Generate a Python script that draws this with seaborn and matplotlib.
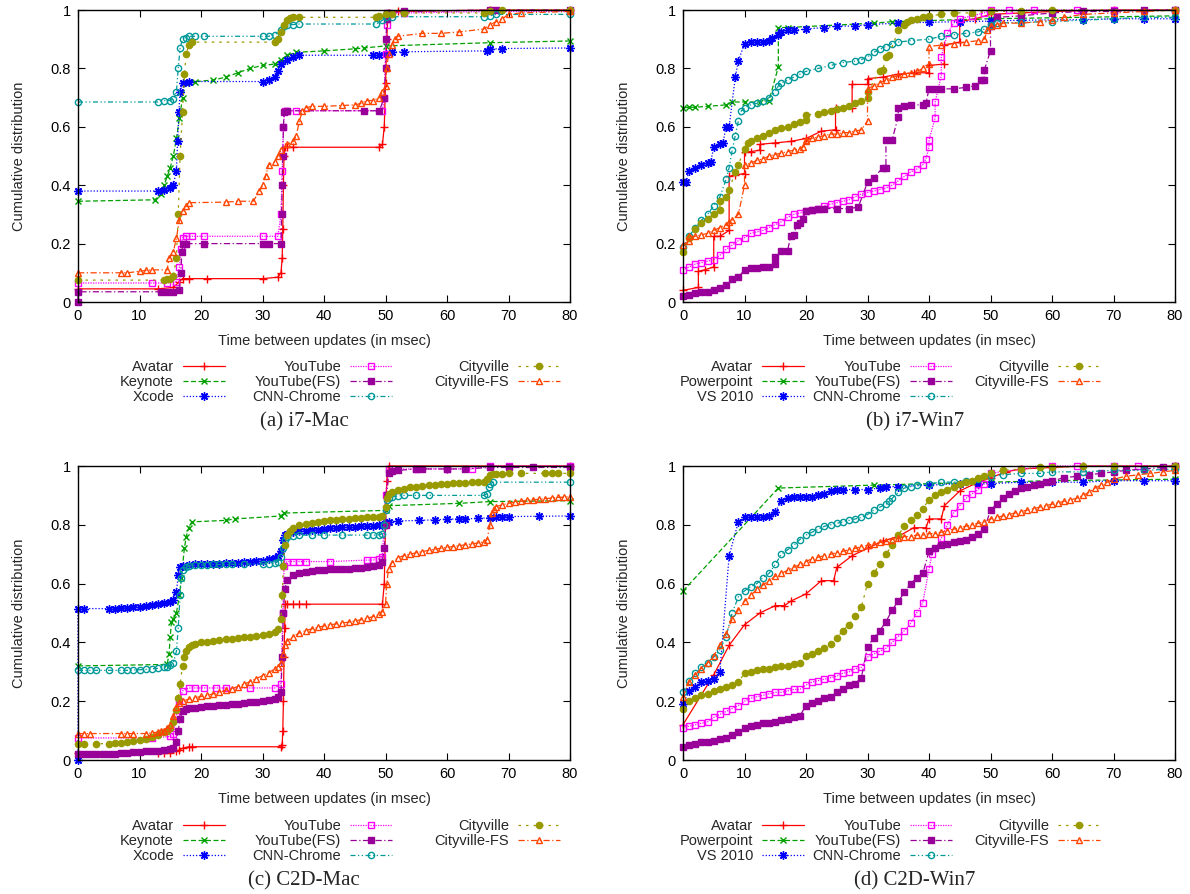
import matplotlib
matplotlib.use("Agg")
import matplotlib.pyplot as plt
import seaborn as sns

# ---- (a) i7-Mac : (x msec, cumulative fraction)
a_avatar = [(0, 0.045), (13, 0.045), (15.5, 0.05), (16.5, 0.07), (17, 0.08), (18, 0.08), (21, 0.08), (30, 0.08),
            (32.5, 0.085), (33, 0.1), (33.2, 0.15), (33.3, 0.25), (33.4, 0.4), (33.5, 0.5), (33.6, 0.53), (34, 0.53),
            (35, 0.53), (49, 0.53), (49.5, 0.54), (49.8, 0.6), (50, 0.75), (50.2, 0.9), (50.4, 0.98), (50.6, 0.99),
            (52, 0.995), (67, 1.0), (80, 1.0)]
a_keynote = [(0, 0.345), (12.5, 0.35), (13.5, 0.37), (14, 0.4), (14.5, 0.43), (15, 0.46), (15.5, 0.5), (16, 0.56),
             (16.5, 0.63), (17, 0.7), (17.5, 0.75), (18, 0.755), (19, 0.755), (22, 0.76), (24, 0.77), (26, 0.785),
             (28, 0.8), (30, 0.81), (32, 0.815), (33, 0.83), (34, 0.845), (35.5, 0.855), (40, 0.86), (45, 0.867),
             (46.5, 0.87), (50, 0.877), (67, 0.888), (80, 0.894)]
a_xcode = [(0, 0.38), (13, 0.38), (14, 0.385), (15, 0.39), (15.5, 0.4), (16, 0.45), (16.2, 0.55), (16.4, 0.65),
           (16.6, 0.72), (17, 0.75), (18, 0.755), (30, 0.755), (31, 0.76), (32, 0.77), (32.5, 0.79), (33, 0.815),
           (34, 0.83), (35, 0.84), (36, 0.845), (48, 0.845), (49, 0.847), (50, 0.85), (51, 0.855), (53, 0.857),
           (66.5, 0.86), (67, 0.866), (69, 0.868), (80, 0.87)]
a_youtube = [(0, 0.065), (12, 0.065), (14.5, 0.065), (16, 0.07), (16.5, 0.12), (16.8, 0.18), (17, 0.22),
             (17.5, 0.225), (18.5, 0.225), (20.5, 0.225), (30, 0.225), (32.5, 0.225), (33, 0.3), (33.2, 0.45),
             (33.4, 0.6), (33.6, 0.655), (34, 0.655), (35.5, 0.655), (49.5, 0.655), (49.8, 0.7), (50, 0.85),
             (50.2, 0.95), (50.5, 0.99), (53, 0.99), (67, 0.995), (80, 0.995)]
a_youtubefs = [(0, 0.0), (0, 0.035), (13.5, 0.035), (14.5, 0.035), (15.5, 0.035), (16.5, 0.04), (16.7, 0.1),
               (16.9, 0.17), (17, 0.2), (17.5, 0.2), (20.5, 0.2), (30, 0.2), (31, 0.2), (33, 0.2), (33.1, 0.3),
               (33.2, 0.4), (33.3, 0.5), (33.4, 0.6), (33.5, 0.65), (34, 0.655), (46.5, 0.655), (49, 0.655),
               (49.8, 0.7), (50, 0.8), (50.1, 0.9), (50.2, 0.97), (50.3, 0.99), (53, 0.995), (67, 1.0), (68, 1.0),
               (80, 1.0)]
a_cnn = [(0, 0.685), (13, 0.685), (14, 0.69), (15, 0.69), (15.5, 0.695), (16, 0.72), (16.3, 0.8), (16.6, 0.87),
         (17, 0.9), (17.5, 0.905), (18, 0.91), (19, 0.91), (20.5, 0.91), (30, 0.91), (31, 0.91), (32, 0.915),
         (33, 0.93), (33.5, 0.945), (34, 0.95), (35, 0.95), (36, 0.952), (48.5, 0.952), (49.5, 0.965), (50, 0.975),
         (51, 0.977), (66, 0.977), (67, 0.98), (68, 0.985), (80, 0.985)]
a_cityville = [(0, 0.075), (14, 0.075), (14.5, 0.078), (15, 0.08), (15.5, 0.09), (16, 0.15), (16.3, 0.3),
               (16.6, 0.5), (17, 0.65), (17.3, 0.78), (17.6, 0.85), (18, 0.88), (18.5, 0.89), (32, 0.89), (32.5, 0.9),
               (33, 0.925), (33.5, 0.95), (34, 0.965), (34.5, 0.972), (35, 0.975), (36, 0.975), (48.5, 0.975),
               (49, 0.98), (50, 0.985), (51, 0.988), (53, 0.99), (66, 0.99), (67, 0.995), (69, 1.0), (80, 1.0)]
a_cityfs = [(0, 0.1), (7, 0.1), (8, 0.1), (10, 0.105), (11, 0.108), (12, 0.11), (14.5, 0.11), (14.8, 0.15),
            (15.5, 0.17), (16, 0.22), (16.5, 0.28), (17, 0.31), (17.5, 0.33), (18, 0.34), (24, 0.342), (26, 0.345),
            (28.5, 0.345), (29.5, 0.38), (30, 0.4), (30.5, 0.43), (31, 0.47), (32, 0.48), (32.5, 0.5), (33, 0.52),
            (34, 0.54), (35, 0.55), (35.5, 0.57), (36, 0.62), (36.5, 0.655), (37, 0.665), (38, 0.67), (40, 0.67),
            (43, 0.673), (45, 0.675), (46, 0.68), (47, 0.69), (48, 0.69), (49, 0.7), (49.5, 0.72), (50, 0.74),
            (50.2, 0.8), (50.5, 0.85), (51, 0.88), (51.5, 0.9), (52, 0.91), (56, 0.92), (59, 0.92), (62, 0.925),
            (66, 0.935), (67, 0.95), (68, 0.96), (69, 0.97), (70, 0.985), (72, 0.99), (80, 0.995)]

# ---- (b) i7-Win7
b_avatar = [(0, 0.04), (2.5, 0.05), (2.5, 0.105), (3.5, 0.11), (5, 0.12), (5, 0.225), (6, 0.225), (7.5, 0.245),
            (7.5, 0.43), (8.5, 0.435), (10, 0.44), (10, 0.515), (11, 0.515), (12.5, 0.52), (12.5, 0.54), (15, 0.545),
            (17.5, 0.55), (20, 0.56), (22.5, 0.585), (24.8, 0.59), (24.8, 0.665), (27.5, 0.665), (27.5, 0.745),
            (30, 0.745), (30, 0.765), (32.5, 0.77), (35, 0.78), (37.5, 0.785), (40, 0.785), (40, 0.81),
            (42.5, 0.815), (42.5, 0.88), (45, 0.89), (45, 0.96), (47.5, 0.97), (50, 0.985), (55, 0.99),
            (60, 0.995), (70, 1.0), (80, 1.0)]
b_powerpoint = [(0, 0.665), (1, 0.667), (2, 0.667), (4, 0.67), (7, 0.675), (8, 0.685), (10, 0.685), (12.5, 0.685),
                (14, 0.69), (15.5, 0.805), (15.5, 0.94), (17, 0.94), (31, 0.955), (34, 0.96), (50, 0.97), (80, 0.98)]
b_vs2010 = [(0, 0.41), (0.5, 0.41), (1, 0.45), (2, 0.46), (3, 0.47), (4, 0.475), (4.5, 0.48), (5, 0.53), (6, 0.54),
            (6.5, 0.545), (7, 0.6), (7.5, 0.6), (8.5, 0.77), (9, 0.825), (10, 0.885), (11, 0.89), (12, 0.89),
            (13, 0.89), (14, 0.895), (14.5, 0.905), (15.5, 0.915), (16, 0.925), (17, 0.93), (18, 0.93), (20, 0.935),
            (23, 0.94), (25, 0.945), (28, 0.945), (30, 0.95), (35, 0.955), (40, 0.958), (45, 0.96), (50, 0.962),
            (55, 0.965), (65, 0.967), (70, 0.97), (75, 0.97), (80, 0.97)]
b_youtube = [(0, 0.11), (1, 0.12), (2, 0.13), (3, 0.135), (4, 0.14), (5, 0.145), (6, 0.16), (7, 0.18), (8, 0.195),
             (9, 0.21), (10, 0.22), (11, 0.235), (12, 0.24), (13, 0.245), (14, 0.255), (15, 0.265), (16, 0.275),
             (17, 0.29), (18, 0.3), (19, 0.305), (20, 0.31), (21, 0.315), (22, 0.32), (23, 0.33), (24, 0.335),
             (25, 0.34), (26, 0.345), (27, 0.35), (28, 0.36), (29, 0.37), (30, 0.375), (31, 0.38), (32, 0.385),
             (33, 0.39), (34, 0.4), (35, 0.415), (36, 0.43), (37, 0.445), (38, 0.455), (39, 0.47), (39.5, 0.49),
             (40, 0.53), (40, 0.555), (41, 0.63), (41, 0.685), (42, 0.775), (42, 0.84), (43, 0.92), (44, 0.955),
             (45, 0.97), (47, 0.98), (49, 0.99), (50, 1.0), (53, 1.0), (57, 1.0), (64, 1.0), (70, 1.0), (80, 1.0)]
b_youtubefs = [(0, 0.02), (1, 0.025), (2, 0.03), (3, 0.033), (4, 0.035), (5, 0.04), (6, 0.048), (7, 0.058),
               (8, 0.08), (9, 0.085), (10, 0.11), (11, 0.115), (12, 0.115), (13, 0.12), (14, 0.12), (15, 0.13),
               (15, 0.155), (16, 0.175), (17, 0.175), (17.5, 0.225), (18, 0.23), (18.5, 0.265), (19, 0.27),
               (19.5, 0.285), (20, 0.31), (21, 0.315), (22, 0.32), (23, 0.32), (25, 0.32), (27, 0.32), (28.5, 0.325),
               (30, 0.41), (31, 0.425), (32.5, 0.46), (33, 0.46), (33, 0.555), (34, 0.555), (35, 0.635), (35, 0.665),
               (36, 0.67), (37, 0.675), (39, 0.675), (39.5, 0.68), (40, 0.73), (41, 0.73), (42, 0.73), (44, 0.73),
               (46, 0.735), (47.5, 0.74), (48.5, 0.76), (49, 0.76), (49, 0.795), (50, 0.86), (50, 0.945), (51, 0.975),
               (55, 0.98), (60, 0.99), (65, 0.995), (70, 0.995), (75, 1.0), (80, 1.0)]
b_cnn = [(0, 0.19), (1, 0.225), (2, 0.255), (3, 0.28), (4, 0.3), (5, 0.33), (6, 0.36), (7, 0.42), (7.5, 0.46),
         (8, 0.52), (8.5, 0.57), (9, 0.62), (9.5, 0.655), (10, 0.665), (11, 0.675), (12, 0.68), (13, 0.69), (14, 0.7),
         (15, 0.72), (15.5, 0.74), (16, 0.75), (17, 0.76), (18, 0.77), (19, 0.78), (20, 0.79), (22, 0.8), (24, 0.81),
         (26, 0.82), (28, 0.825), (29, 0.83), (30, 0.84), (31, 0.855), (32, 0.865), (33, 0.875), (34, 0.885),
         (35, 0.89), (37, 0.895), (40, 0.9), (42, 0.91), (44, 0.915), (46, 0.92), (48, 0.925), (49, 0.935),
         (50, 0.95), (51, 0.955), (55, 0.958), (60, 0.96), (65, 0.965), (70, 0.97), (75, 0.975), (80, 0.975)]
b_cityville = [(0, 0.17), (1, 0.22), (2, 0.25), (3, 0.27), (4, 0.285), (5, 0.3), (6, 0.315), (6, 0.345), (7, 0.36),
               (7.5, 0.385), (8.5, 0.445), (9, 0.47), (10, 0.525), (10.5, 0.545), (11, 0.55), (12, 0.56), (13, 0.57),
               (14, 0.58), (15, 0.59), (16, 0.595), (17, 0.6), (18, 0.61), (19, 0.615), (20, 0.625), (20, 0.64),
               (22, 0.645), (23, 0.65), (24, 0.655), (25, 0.66), (26, 0.665), (27, 0.67), (28, 0.68), (29, 0.69),
               (30, 0.7), (30, 0.72), (32, 0.79), (32.5, 0.795), (33, 0.84), (33.5, 0.845), (35, 0.93), (36, 0.95),
               (36.5, 0.96), (37, 0.965), (38, 0.97), (39, 0.975), (40, 0.98), (42, 0.985), (44, 0.99), (47, 0.99),
               (50, 0.995), (55, 0.997), (60, 1.0), (80, 1.0)]
b_cityfs = [(0, 0.195), (1, 0.21), (1, 0.225), (2, 0.225), (3, 0.23), (4, 0.235), (5, 0.245), (6, 0.255),
            (7, 0.265), (7.5, 0.275), (8, 0.28), (9, 0.3), (10, 0.4), (10, 0.47), (11, 0.475), (12, 0.485),
            (13, 0.49), (14, 0.5), (15, 0.505), (16, 0.51), (17, 0.515), (18, 0.52), (19, 0.525), (19.5, 0.53),
            (20, 0.55), (20, 0.555), (21, 0.56), (22, 0.565), (23, 0.57), (24, 0.575), (25, 0.575), (26, 0.58),
            (27, 0.58), (28, 0.585), (29, 0.59), (30, 0.62), (30, 0.73), (31, 0.74), (32, 0.75), (33, 0.76),
            (34, 0.77), (35, 0.775), (36, 0.78), (37, 0.785), (38, 0.79), (39, 0.8), (40, 0.815), (40, 0.875),
            (42, 0.88), (44, 0.885), (46, 0.89), (48, 0.895), (49, 0.9), (49.5, 0.93), (50, 0.945), (51, 0.95),
            (52, 0.955), (55, 0.955), (58, 0.96), (60, 0.965), (62, 0.975), (65, 0.985), (70, 0.99), (75, 0.995),
            (80, 1.0)]

# ---- (c) C2D-Mac
c_avatar = [(0, 0.025), (13, 0.025), (14, 0.025), (15, 0.025), (16, 0.03), (16.5, 0.035), (17, 0.04), (18, 0.045),
            (18.5, 0.045), (33, 0.045), (33.2, 0.05), (33.3, 0.1), (33.4, 0.2), (33.5, 0.35), (33.6, 0.45),
            (33.7, 0.53), (34, 0.53), (35, 0.53), (36, 0.53), (37, 0.53), (49.5, 0.53), (49.8, 0.6), (50, 0.8),
            (50.2, 0.95), (50.5, 1.0), (80, 1.0)]
c_keynote = [(0, 0.32), (14.5, 0.325), (14.8, 0.36), (15, 0.42), (15.2, 0.47), (15.5, 0.48), (16, 0.5), (16.5, 0.56),
             (16.8, 0.62), (17, 0.66), (17.3, 0.72), (17.6, 0.76), (18, 0.79), (18.5, 0.81), (24, 0.815),
             (25.5, 0.82), (33, 0.83), (33.5, 0.84), (50, 0.849), (50.5, 0.865), (62, 0.873), (67, 0.879),
             (80, 0.882)]
c_xcode = [(0, 0.0), (0, 0.515), (1, 0.515), (5, 0.515), (6, 0.515), (7, 0.517), (8, 0.518), (9, 0.52), (10, 0.522),
           (11, 0.525), (12, 0.527), (13, 0.53), (14, 0.533), (15, 0.537), (15.5, 0.545), (16, 0.57), (16.3, 0.63),
           (16.6, 0.655), (17, 0.66), (18, 0.663), (19, 0.665), (20, 0.665), (21, 0.666), (22, 0.667), (23, 0.668),
           (24, 0.669), (25, 0.67), (26, 0.671), (27, 0.672), (28, 0.674), (29, 0.676), (30, 0.678), (31, 0.682),
           (32, 0.688), (32.5, 0.695), (33, 0.71), (33.3, 0.75), (33.6, 0.765), (34, 0.77), (35, 0.775), (36, 0.778),
           (37, 0.78), (38, 0.782), (39, 0.784), (40, 0.786), (41, 0.788), (42, 0.79), (43, 0.791), (44, 0.792),
           (45, 0.794), (46, 0.795), (47, 0.796), (48, 0.797), (49, 0.798), (49.5, 0.8), (50, 0.805), (50.5, 0.81),
           (52, 0.813), (55.5, 0.815), (58, 0.817), (60, 0.819), (62, 0.82), (63, 0.82), (65, 0.822), (67, 0.824),
           (68, 0.826), (69, 0.827), (70, 0.828), (75, 0.829), (80, 0.83)]
c_youtube = [(0, 0.075), (12, 0.075), (15, 0.08), (15.5, 0.09), (16, 0.15), (16.5, 0.2), (17, 0.235), (18, 0.245),
             (19, 0.245), (20.5, 0.245), (22.5, 0.245), (24, 0.245), (28, 0.245), (32, 0.245), (33, 0.26),
             (33.3, 0.5), (33.5, 0.66), (34, 0.675), (35, 0.675), (36, 0.675), (37, 0.675), (41, 0.675), (47, 0.68),
             (48, 0.68), (49, 0.685), (49.5, 0.69), (50, 0.9), (50.5, 0.99), (55, 0.99), (60, 0.99), (64, 0.99),
             (67, 1.0), (70, 1.0), (80, 1.0)]
c_youtubefs = [(0, 0.02), (1, 0.02), (2, 0.02), (3, 0.021), (4, 0.021), (5, 0.022), (6, 0.022), (7, 0.024),
               (8, 0.025), (9, 0.026), (10, 0.028), (11, 0.029), (12, 0.03), (13, 0.032), (14, 0.034), (15, 0.037),
               (15.5, 0.042), (16, 0.06), (16.3, 0.1), (16.6, 0.14), (17, 0.165), (17.5, 0.172), (18, 0.176),
               (19, 0.178), (20, 0.18), (21, 0.182), (22, 0.184), (23, 0.186), (24, 0.188), (25, 0.19), (26, 0.192),
               (27, 0.194), (28, 0.196), (29, 0.198), (30, 0.2), (31, 0.203), (32, 0.208), (32.5, 0.215), (33, 0.23),
               (33.2, 0.35), (33.4, 0.5), (33.6, 0.58), (34, 0.612), (35, 0.628), (36, 0.635), (37, 0.64),
               (38, 0.643), (39, 0.645), (40, 0.647), (41, 0.648), (42, 0.649), (43, 0.65), (44, 0.651), (45, 0.652),
               (46, 0.654), (47, 0.656), (48, 0.659), (49, 0.663), (49.5, 0.675), (49.8, 0.72), (50, 0.8),
               (50.2, 0.9), (50.5, 0.975), (51, 0.983), (52, 0.985), (55, 0.99), (56, 0.99), (60, 0.99), (63, 0.99),
               (67, 0.995), (70, 0.995), (74, 0.995), (80, 0.995)]
c_cnn = [(0, 0.305), (1, 0.305), (2, 0.305), (3, 0.305), (5, 0.305), (7, 0.305), (8, 0.305), (9, 0.306),
         (10, 0.307), (11, 0.308), (12, 0.31), (13, 0.312), (14, 0.315), (14.5, 0.318), (15, 0.322), (15.5, 0.33),
         (16, 0.37), (16.3, 0.45), (16.6, 0.56), (16.8, 0.62), (17, 0.645), (17.5, 0.655), (18, 0.66), (19, 0.662),
         (20, 0.663), (21, 0.664), (22, 0.665), (23, 0.665), (24, 0.665), (25, 0.666), (27, 0.666), (30, 0.667),
         (31, 0.668), (32, 0.67), (32.5, 0.675), (33, 0.69), (33.3, 0.72), (33.6, 0.75), (34, 0.76), (35, 0.763),
         (36, 0.765), (38, 0.765), (40, 0.765), (43, 0.765), (47, 0.765), (48, 0.765), (49, 0.766), (49.5, 0.77),
         (49.8, 0.8), (50, 0.85), (50.3, 0.885), (50.6, 0.89), (51, 0.895), (52, 0.898), (53, 0.9), (55, 0.9),
         (57, 0.9), (66, 0.9), (66.5, 0.905), (66.8, 0.93), (67, 0.94), (67.5, 0.945), (80, 0.945)]
c_cityville = [(0, 0.055), (1, 0.055), (3, 0.055), (5, 0.056), (6, 0.057), (7, 0.058), (8, 0.06), (9, 0.063),
               (10, 0.067), (11, 0.072), (12, 0.078), (13, 0.085), (14, 0.095), (14.5, 0.1), (15, 0.11), (15.5, 0.13),
               (16, 0.17), (16.3, 0.21), (16.6, 0.26), (17, 0.32), (17.3, 0.35), (17.6, 0.37), (18, 0.383),
               (18.5, 0.39), (19, 0.395), (20, 0.4), (21, 0.403), (22, 0.405), (23, 0.408), (24, 0.41), (25, 0.413),
               (26, 0.416), (27, 0.418), (28, 0.42), (29, 0.423), (30, 0.426), (31, 0.43), (32, 0.435),
               (32.5, 0.445), (33, 0.48), (33.2, 0.56), (33.4, 0.66), (33.6, 0.73), (34, 0.765), (34.5, 0.78),
               (35, 0.79), (36, 0.798), (37, 0.803), (38, 0.807), (39, 0.81), (40, 0.813), (41, 0.815), (42, 0.817),
               (43, 0.819), (44, 0.82), (45, 0.822), (46, 0.823), (47, 0.825), (48, 0.826), (49, 0.827),
               (49.5, 0.83), (50, 0.86), (50.3, 0.89), (50.6, 0.905), (51, 0.912), (52, 0.918), (53, 0.923),
               (54, 0.927), (55, 0.93), (56, 0.933), (57, 0.935), (58, 0.937), (59, 0.938), (60, 0.94), (61, 0.941),
               (62, 0.942), (63, 0.943), (64, 0.944), (65, 0.945), (66, 0.946), (66.5, 0.955), (67, 0.968),
               (67.5, 0.972), (68, 0.973), (69, 0.974), (70, 0.975), (72, 0.975), (76, 0.975), (77, 0.975),
               (78, 0.975), (80, 0.975)]
c_cityfs = [(0, 0.09), (1, 0.09), (2, 0.09), (7, 0.09), (8, 0.09), (9, 0.09), (11, 0.09), (12, 0.092), (13, 0.095),
            (13.5, 0.097), (14, 0.1), (14.5, 0.108), (15, 0.12), (15.5, 0.15), (16, 0.18), (16.5, 0.193), (17, 0.2),
            (18, 0.207), (19, 0.212), (20, 0.216), (21, 0.22), (22, 0.225), (23, 0.23), (24, 0.237), (25, 0.243),
            (26, 0.25), (27, 0.258), (28, 0.267), (29, 0.277), (30, 0.287), (31, 0.297), (32, 0.31), (32.5, 0.318),
            (33, 0.33), (33.3, 0.36), (33.6, 0.39), (34, 0.405), (35, 0.42), (36, 0.432), (37, 0.44), (38, 0.446),
            (39, 0.451), (40, 0.456), (41, 0.46), (42, 0.463), (43, 0.466), (44, 0.469), (45, 0.473), (46, 0.477),
            (47, 0.482), (48, 0.488), (49, 0.495), (49.5, 0.505), (50, 0.53), (50.2, 0.6), (50.5, 0.65), (51, 0.67),
            (52, 0.688), (53, 0.695), (54, 0.7), (55, 0.705), (56, 0.709), (57, 0.713), (58, 0.717), (59, 0.72),
            (60, 0.723), (61, 0.726), (62, 0.729), (63, 0.732), (64, 0.735), (65, 0.738), (66, 0.742), (66.5, 0.75),
            (67, 0.8), (67.3, 0.84), (67.7, 0.855), (68, 0.862), (69, 0.868), (70, 0.873), (71, 0.877), (72, 0.88),
            (73, 0.883), (74, 0.885), (75, 0.887), (76, 0.889), (77, 0.891), (78, 0.893), (79, 0.894), (80, 0.896)]

# ---- (d) C2D-Win7
d_avatar = [(0, 0.12), (5, 0.29), (7.5, 0.39), (10, 0.46), (12.5, 0.5), (15, 0.525), (16.5, 0.525), (17.5, 0.54),
            (20, 0.565), (22.5, 0.61), (24.5, 0.61), (25, 0.655), (27.5, 0.695), (30, 0.72), (32.5, 0.745),
            (35, 0.76), (37.5, 0.79), (39.5, 0.79), (40, 0.82), (42, 0.82), (42.5, 0.865), (45, 0.915), (47.5, 0.94),
            (50, 0.96), (52.5, 0.98), (55, 0.99), (60, 0.995), (65, 1.0), (80, 1.0)]
d_powerpoint = [(0, 0.575), (15.5, 0.925), (31, 0.935), (50, 0.945), (60, 0.95), (80, 0.955)]
d_vs2010 = [(0, 0.19), (1, 0.235), (2, 0.25), (3, 0.265), (4, 0.27), (5, 0.275), (6, 0.3), (7.5, 0.695), (9, 0.81),
            (10, 0.825), (11, 0.825), (12, 0.825), (13, 0.825), (14, 0.83), (15, 0.845), (16, 0.88), (17, 0.89),
            (18, 0.895), (19, 0.895), (20, 0.895), (21, 0.895), (22, 0.9), (23, 0.905), (24, 0.915), (25, 0.92),
            (26, 0.92), (28, 0.92), (30, 0.92), (32, 0.925), (33, 0.93), (35, 0.93), (40, 0.935), (45, 0.94),
            (48, 0.94), (50, 0.94), (55, 0.945), (60, 0.945), (65, 0.945), (70, 0.95), (75, 0.95), (80, 0.95)]
d_youtube = [(0, 0.11), (1, 0.115), (2, 0.12), (3, 0.125), (4, 0.13), (5, 0.145), (6, 0.155), (7, 0.165),
             (8, 0.175), (9, 0.185), (10, 0.2), (11, 0.21), (12, 0.215), (13, 0.22), (14, 0.225), (15, 0.23),
             (16, 0.23), (17, 0.235), (18, 0.24), (19, 0.24), (20, 0.255), (21, 0.265), (22, 0.27), (23, 0.275),
             (24, 0.28), (25, 0.285), (26, 0.295), (27, 0.3), (28, 0.31), (29, 0.315), (30, 0.35), (31, 0.36),
             (32, 0.37), (33, 0.38), (34, 0.4), (35, 0.42), (36, 0.44), (37, 0.465), (38, 0.5), (39, 0.535),
             (40, 0.65), (40.5, 0.7), (42, 0.755), (43, 0.8), (44, 0.84), (45, 0.865), (46, 0.89), (47, 0.905),
             (48, 0.92), (49, 0.94), (50, 0.975), (55, 0.99), (60, 1.0), (64, 1.0), (70, 1.0), (74, 1.0), (80, 1.0)]
d_youtubefs = [(0, 0.045), (1, 0.05), (2, 0.055), (3, 0.06), (4, 0.062), (5, 0.065), (6, 0.07), (7, 0.075),
               (8, 0.085), (9, 0.095), (10, 0.11), (11, 0.115), (12, 0.12), (13, 0.125), (14, 0.125), (15, 0.13),
               (16, 0.135), (17, 0.14), (18, 0.145), (19, 0.15), (20, 0.185), (21, 0.195), (22, 0.2), (23, 0.21),
               (24, 0.215), (25, 0.23), (26, 0.24), (27, 0.255), (28, 0.26), (29, 0.28), (30, 0.385), (31, 0.415),
               (32, 0.44), (33, 0.47), (34, 0.51), (35, 0.54), (36, 0.57), (37, 0.6), (38, 0.62), (39, 0.635),
               (40, 0.71), (41, 0.72), (42, 0.73), (43, 0.735), (44, 0.74), (45, 0.745), (46, 0.75), (47, 0.76),
               (48, 0.77), (49, 0.785), (50, 0.85), (51, 0.87), (52, 0.89), (53, 0.905), (54, 0.915), (55, 0.925),
               (56, 0.93), (57, 0.935), (58, 0.94), (59, 0.945), (60, 0.95), (62, 0.96), (64, 0.965), (66, 0.97),
               (68, 0.975), (70, 0.98), (72, 0.985), (75, 0.99), (78, 0.995), (80, 1.0)]
d_cnn = [(0, 0.23), (1, 0.27), (2, 0.295), (3, 0.315), (4, 0.33), (5, 0.35), (6, 0.375), (7, 0.42), (8, 0.5),
         (9, 0.555), (10, 0.575), (11, 0.59), (12, 0.6), (13, 0.62), (14, 0.635), (15, 0.665), (16, 0.7),
         (17, 0.715), (18, 0.73), (19, 0.75), (20, 0.765), (21, 0.775), (22, 0.785), (23, 0.795), (24, 0.8),
         (25, 0.805), (26, 0.81), (27, 0.815), (28, 0.82), (29, 0.825), (30, 0.835), (31, 0.85), (32, 0.86),
         (33, 0.87), (33.5, 0.88), (34, 0.89), (35, 0.91), (36, 0.925), (37, 0.93), (38, 0.935), (40, 0.94),
         (42, 0.945), (44, 0.945), (46, 0.95), (48, 0.955), (50, 0.965), (52, 0.97), (55, 0.975), (58, 0.975),
         (60, 0.98), (65, 0.98), (70, 0.985), (75, 0.985), (80, 0.99)]
d_cityville = [(0, 0.175), (1, 0.2), (2, 0.21), (3, 0.22), (4, 0.225), (5, 0.235), (6, 0.24), (7, 0.25), (8, 0.255),
               (9, 0.265), (10, 0.295), (11, 0.3), (12, 0.305), (13, 0.31), (14, 0.31), (15, 0.315), (16, 0.32),
               (17, 0.32), (18, 0.325), (19, 0.33), (20, 0.355), (21, 0.36), (22, 0.37), (23, 0.38), (24, 0.395),
               (25, 0.415), (26, 0.44), (27, 0.46), (28, 0.49), (29, 0.52), (30, 0.6), (31, 0.635), (32, 0.665),
               (33, 0.7), (34, 0.73), (35, 0.765), (36, 0.795), (37, 0.815), (38, 0.835), (39, 0.855), (40, 0.885),
               (41, 0.9), (42, 0.91), (43, 0.92), (44, 0.93), (45, 0.94), (46, 0.945), (47, 0.95), (48, 0.96),
               (49, 0.965), (50, 0.975), (52, 0.985), (55, 0.99), (58, 0.995), (60, 0.995), (65, 1.0), (70, 1.0),
               (80, 1.0)]
d_cityfs = [(0, 0.215), (1, 0.265), (2, 0.29), (3, 0.31), (4, 0.33), (5, 0.355), (6, 0.39), (7, 0.43), (8, 0.48),
            (9, 0.51), (10, 0.54), (11, 0.56), (12, 0.58), (13, 0.595), (14, 0.61), (15, 0.625), (16, 0.635),
            (17, 0.645), (18, 0.655), (19, 0.665), (20, 0.675), (21, 0.685), (22, 0.69), (23, 0.695), (24, 0.7),
            (25, 0.705), (26, 0.71), (27, 0.715), (28, 0.72), (29, 0.725), (30, 0.73), (31, 0.735), (32, 0.74),
            (33, 0.745), (34, 0.75), (35, 0.755), (36, 0.76), (37, 0.76), (38, 0.765), (39, 0.765), (40, 0.77),
            (41, 0.77), (42, 0.775), (43, 0.78), (44, 0.785), (45, 0.79), (46, 0.795), (47, 0.8), (48, 0.805),
            (49, 0.81), (50, 0.82), (51, 0.825), (52, 0.83), (53, 0.835), (54, 0.84), (55, 0.845), (56, 0.85),
            (57, 0.855), (58, 0.86), (59, 0.865), (60, 0.87), (61, 0.875), (62, 0.88), (63, 0.885), (64, 0.89),
            (65, 0.9), (66, 0.91), (67, 0.925), (68, 0.935), (69, 0.945), (70, 0.955), (72, 0.965), (74, 0.97),
            (76, 0.975), (78, 0.98), (80, 0.985)]

mac_names = ["Avatar", "Keynote", "Xcode", "YouTube", "YouTube(FS)", "CNN-Chrome", "Cityville", "Cityville-FS"]
win_names = ["Avatar", "Powerpoint", "VS 2010", "YouTube", "YouTube(FS)", "CNN-Chrome", "Cityville", "Cityville-FS"]
captions = ["(a) i7-Mac", "(b) i7-Win7", "(c) C2D-Mac", "(d) C2D-Win7"]

# colour, dash pattern, marker, filled?, marker size  (gnuplot-ish)
styles = [
    ("#ff0000", "-", "+", True, 6),
    ("#00a000", (0, (4, 2)), "x", True, 5),
    ("#0000ff", (0, (1, 1.5)), (8, 2, 0), True, 6),
    ("#ff00ff", (0, (1, 1)), "s", False, 5),
    ("#990099", (0, (5, 2, 1, 2)), "s", True, 5),
    ("#009999", (0, (4, 2, 1, 2, 1, 2)), "o", False, 4.5),
    ("#999900", (0, (2, 4)), "o", True, 4.5),
    ("#ff4500", (0, (5, 2, 1, 2)), "^", False, 5),
]

sns.set_theme(style="ticks")
plt.rcParams["font.family"] = ["Liberation Sans", "DejaVu Sans"]
plt.rcParams["axes.edgecolor"] = "black"
plt.rcParams["xtick.color"] = "black"
plt.rcParams["ytick.color"] = "black"

W, H = 1190, 894
fig = plt.figure(figsize=(W / 100, H / 100), dpi=100)

panels = [
    ([a_avatar, a_keynote, a_xcode, a_youtube, a_youtubefs, a_cnn, a_cityville, a_cityfs], mac_names),
    ([b_avatar, b_powerpoint, b_vs2010, b_youtube, b_youtubefs, b_cnn, b_cityville, b_cityfs], win_names),
    ([c_avatar, c_keynote, c_xcode, c_youtube, c_youtubefs, c_cnn, c_cityville, c_cityfs], mac_names),
    ([d_avatar, d_powerpoint, d_vs2010, d_youtube, d_youtubefs, d_cnn, d_cityville, d_cityfs], win_names),
]
# axes boxes in pixels: left, top, right, bottom
boxes = [(78, 10, 570, 302), (683, 10, 1175, 302), (78, 466, 570, 760), (683, 466, 1175, 760)]
leg_right = [(225, 392, 560), (804, 952, 1100), (225, 392, 560), (804, 952, 1100)]
leg_top = [360, 360, 819, 819]
cap_pos = [(304, 422), (915, 422), (304, 881), (915, 881)]

for i, ((series, names), box) in enumerate(zip(panels, boxes)):
    l, t, r, b = box
    ax = fig.add_axes([l / W, 1 - b / H, (r - l) / W, (b - t) / H])
    handles = []
    for pts, name, (col, ls, mk, filled, ms) in zip(series, names, styles):
        xs = [p[0] for p in pts]
        ys = [p[1] for p in pts]
        sns.lineplot(x=xs, y=ys, ax=ax, estimator=None, sort=False, legend=False,
                     color=col, linestyle=ls, linewidth=0.9, marker=mk, markersize=ms,
                     markerfacecolor=col if filled else "none", markeredgecolor=col,
                     markeredgewidth=1.0, label=name, clip_on=False)
        handles.append(ax.lines[-1])

    ax.set_xlim(0, 80)
    ax.set_ylim(0, 1)
    ax.set_xticks(range(0, 81, 10))
    ax.set_yticks([0, 0.2, 0.4, 0.6, 0.8, 1.0])
    ax.set_yticklabels(["0", "0.2", "0.4", "0.6", "0.8", "1"])
    ax.tick_params(direction="in", top=True, right=True, length=5, width=0.8, labelsize=10.5)
    ax.tick_params(axis="x", pad=5)
    ax.tick_params(axis="y", pad=5)
    for sp in ax.spines.values():
        sp.set_linewidth(1.0)
        sp.set_color("black")
    ax.set_xlabel("Time between updates (in msec)", fontsize=10.5)
    ax.set_ylabel("Cumulative distribution", fontsize=10.5)
    ax.xaxis.set_label_coords(0.5, -0.108)
    ax.yaxis.set_label_coords(-0.106, 0.5)

    # gnuplot-style key: three right-aligned columns, text before the sample
    groups = [(0, 3), (3, 6), (6, 8)]
    for (s, e), xr in zip(groups, leg_right[i]):
        fig.legend(handles[s:e], names[s:e], loc="upper right",
                   bbox_to_anchor=(xr / W, 1 - leg_top[i] / H), bbox_transform=fig.transFigure,
                   frameon=False, markerfirst=False, numpoints=1, fontsize=10.5,
                   handlelength=2.9, handletextpad=0.6, labelspacing=0.08,
                   borderpad=0, borderaxespad=0)

    cx, cy = cap_pos[i]
    fig.text(cx / W, 1 - cy / H, captions[i], ha="center", va="center",
             family="Liberation Serif", fontsize=15)

fig.savefig("out.png", dpi=100)
